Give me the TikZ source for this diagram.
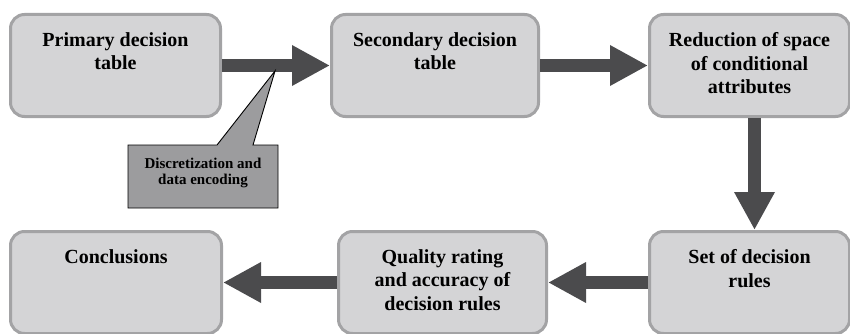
\documentclass[tikz,border=0pt]{standalone}
\usepackage{fontspec}
\setmainfont{Liberation Serif}
\usetikzlibrary{arrows.meta}
\definecolor{boxfill}{HTML}{D4D4D6}
\definecolor{boxline}{HTML}{A3A3A5}
\definecolor{arrowc}{HTML}{4B4B4D}
\definecolor{callfill}{HTML}{9C9C9E}
\tikzset{
  stagebox/.style={draw=boxline, fill=boxfill, line width=3pt, rounded corners=14pt,
    inner sep=0pt, anchor=north west, align=center},
  bigarrow/.style={draw=arrowc, line width=13pt, -{Triangle[length=38pt,width=38pt]}},
}
\newcommand{\boxtext}[3]{\parbox[c][#2pt][t]{#1pt}{\centering\vspace{18pt}\fontsize{20}{23.5}\selectfont\bfseries #3}}
\begin{document}
\begin{tikzpicture}[x=1pt,y=-1pt]
\useasboundingbox (0,0) rectangle (850,334);
\node[stagebox] (b1) at (9,13) {\boxtext{210}{102}{Primary decision\\table}};
\node[stagebox] (b2) at (330,13) {\boxtext{207}{102}{Secondary decision\\table}};
\node[stagebox] (b3) at (648,13) {\boxtext{200}{102}{Reduction of space\\of conditional\\attributes}};
\node[stagebox] (b5) at (648,230) {\boxtext{200}{102}{Set of decision\\rules}};
\node[stagebox] (b4) at (337,230) {\boxtext{208}{102}{Quality rating\\and accuracy of\\decision rules}};
\node[stagebox] (b6) at (9,230) {\boxtext{211}{102}{Conclusions}};
\draw[bigarrow] (b1.east) -- (b2.west);
\draw[bigarrow] (b2.east) -- (b3.west);
\draw[bigarrow] ([xshift=5pt]b3.south) -- ([xshift=5pt]b5.north);
\draw[bigarrow] (b5.west) -- (b4.east);
\draw[bigarrow] (b4.west) -- (b6.east);
\coordinate (tip) at (275,71);
\draw[fill=callfill, line width=0.9pt, line join=miter]
  (128,145) -- (217,145) -- (tip) -- (253,145) -- (278,145) -- (278,208) -- (128,208) -- cycle;
\node[align=center, inner sep=0pt, anchor=north, font=\fontsize{15}{15.5}\selectfont\bfseries] (cl) at (203,158) {Discretization and\\data encoding};
\end{tikzpicture}
\end{document}
